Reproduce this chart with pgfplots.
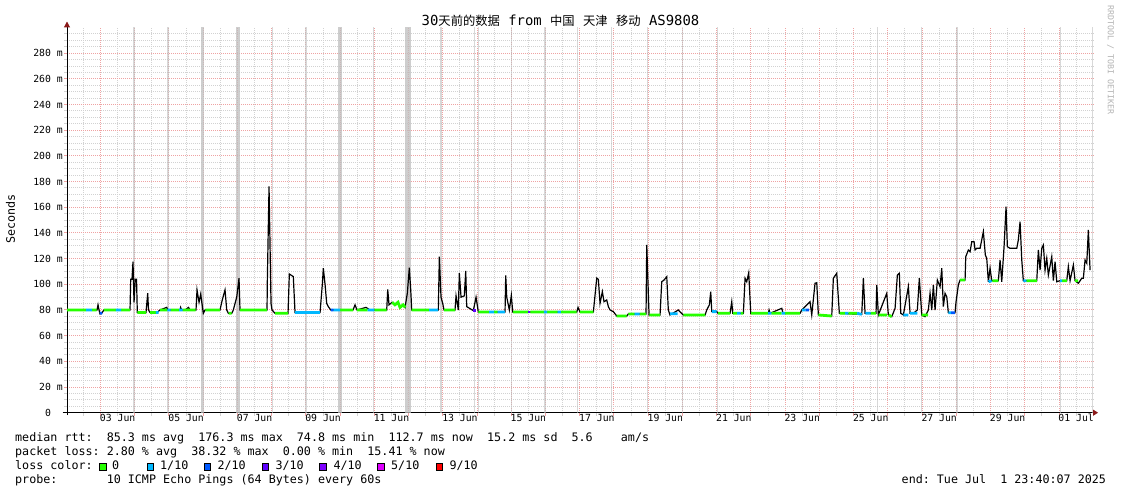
\documentclass[border=0pt]{standalone}
\usepackage{fontspec}
\usepackage{pgfplots}
\pgfplotsset{compat=1.18}
\usetikzlibrary{arrows.meta}
\setmainfont{DejaVu Sans Mono}
\newfontfamily\cjk{Noto Sans CJK SC}

% smokeping loss colours
\definecolor{lossA}{HTML}{26FF00}
\definecolor{lossB}{HTML}{00B8FF}
\definecolor{lossC}{HTML}{0059FF}
\definecolor{lossD}{HTML}{5E00FF}
\definecolor{lossE}{HTML}{7E00FF}
\definecolor{lossF}{HTML}{DD00FF}
\definecolor{lossG}{HTML}{FF0000}
\definecolor{mgrid}{HTML}{EFA3A3}
\definecolor{ngrid}{HTML}{D2D2D2}
\definecolor{smoke}{HTML}{BEBEBE}
\definecolor{arrowred}{HTML}{8B1A1A}
\definecolor{wmark}{HTML}{B4B4B4}

\newcommand{\legfont}{\fontsize{11.7bp}{14bp}\selectfont}
\newcommand{\axfont}{\fontsize{9.8bp}{12bp}\selectfont}

% median rtt (x = days since 1 Jun 00:00, y = ms)
\pgfplotstableread{
x y
1.021 80
1.898 80
1.927 84
1.956 80
1.985 77
2.044 78
2.102 80
2.862 80
2.882 104
2.920 104
2.949 117.6
2.979 86
3.017 104
3.052 104
3.075 78
3.329 78
3.379 93
3.402 80
3.446 78
3.651 78
3.738 80
3.934 82
3.972 80
4.323 80
4.340 82
4.369 80
4.469 80
4.571 82
4.615 80
4.790 80
4.819 95.6
4.878 86
4.927 92.4
5.003 77.4
5.053 80
5.491 80
5.541 86
5.579 90
5.637 95.6
5.687 80
5.734 77.4
5.833 77.4
5.880 80
5.929 85
5.979 90
6.046 104.7
6.075 80
6.864 80
6.873 102
6.923 176.3
6.981 85
7.010 80
7.098 77.4
7.478 77.4
7.516 108
7.632 106
7.682 78
8.413 78
8.480 100
8.509 112.5
8.559 100
8.608 85
8.655 82.6
8.725 80
9.377 80
9.435 84
9.493 80
9.756 82
9.873 80
10.361 80
10.390 96
10.428 84
10.516 86
10.604 84
10.691 86
10.750 82
10.837 84
10.896 82
10.963 93
11.021 112.9
11.062 95.6
11.091 80
11.868 80
11.898 121.5
11.947 90
11.997 85
12.035 80
12.356 80
12.386 91
12.453 80
12.482 108.6
12.532 90
12.628 91
12.669 110.4
12.698 82.6
12.891 79.5
12.970 90
13.037 78.4
13.817 78.4
13.837 107
13.867 90
13.943 80
14.001 91.4
14.042 78.4
15.912 78.4
15.950 82
16.008 78.4
16.397 78.4
16.496 104.7
16.543 103.9
16.592 85.2
16.660 94.2
16.709 86.4
16.788 87.8
16.835 82.6
16.885 80
16.981 78.7
17.080 75.3
17.372 75.3
17.419 76.9
17.936 76.9
17.957 130.6
18.024 76.1
18.345 76.1
18.395 102
18.462 103.3
18.541 105.9
18.587 80
18.637 76.1
18.880 80
18.929 78.5
19.026 76.1
19.660 76.1
19.709 80
19.785 83.9
19.826 94.2
19.856 78.7
20.002 78.7
20.040 77.4
20.390 77.4
20.440 86.4
20.469 77.4
20.779 77.4
20.829 104.7
20.878 102
20.936 109
20.995 77.4
21.509 77.4
21.530 80
21.559 77.4
21.901 81.3
21.938 77.4
22.435 77.4
22.485 80
22.727 86.4
22.777 76.1
22.873 100.8
22.923 101.2
22.970 76.1
23.361 75.3
23.408 104.7
23.507 108.6
23.583 77.4
24.238 76.6
24.285 104.7
24.334 77.4
24.655 77.4
24.676 99.5
24.723 76.1
24.968 93
25.015 76.1
25.114 74.8
25.211 81.3
25.278 107.2
25.336 108.6
25.377 77.4
25.453 76.1
25.599 98.2
25.649 77.4
25.745 77.4
25.862 80
25.920 104.7
25.991 76.1
26.087 74.8
26.183 80
26.233 93
26.283 80
26.329 99.5
26.379 80
26.446 103.3
26.525 98.1
26.575 112.5
26.621 82.6
26.671 93
26.721 90.3
26.767 77.9
26.963 77.9
26.992 86.4
27.060 99.5
27.109 103.3
27.256 103.3
27.276 121.5
27.352 126.7
27.402 125.4
27.451 133.2
27.518 133.2
27.548 126.7
27.597 128
27.694 128
27.790 141
27.848 122.8
27.889 120.2
27.936 102
27.986 112.5
28.035 102.8
28.228 102.8
28.278 118.9
28.327 102
28.395 129.3
28.453 160.4
28.491 129.3
28.570 128
28.766 128
28.812 134.5
28.862 148.8
28.912 118.9
28.958 102.8
29.350 102.8
29.397 126.7
29.446 111.1
29.496 128
29.543 130.6
29.592 111.1
29.642 120.2
29.689 107.2
29.788 121.5
29.835 102.8
29.885 117.6
29.934 102
30.031 102.8
30.226 102.8
30.273 113.7
30.323 102.8
30.419 115
30.469 102.8
30.565 100.8
30.665 104.7
30.711 104.7
30.761 118.9
30.811 116.4
30.857 142.3
30.907 111.1
}\median

% median segments drawn in loss colour 0
\pgfplotstableread{
x y
1.021 80
1.58 80
1.58 nan
1.75 80
1.89 80
1.89 nan
2.10 80
2.45 80
2.45 nan
2.60 80
2.86 80
2.86 nan
3.08 78
3.33 78
3.33 nan
3.45 78
3.62 78
3.62 nan
3.74 80
3.95 80
3.95 nan
4.05 80
4.30 80
4.30 nan
4.40 80
4.78 80
4.78 nan
5.06 80
5.49 80
5.49 nan
5.74 77.4
5.83 77.4
5.83 nan
6.08 80
6.86 80
6.86 nan
7.10 77.4
7.48 77.4
7.48 nan
9.00 80
9.38 80
9.38 nan
9.49 80
9.80 80
9.80 nan
10.00 80
10.36 80
10.36 nan
10.52 86
10.60 84
10.69 86
10.75 82
10.84 84
10.90 82
10.90 nan
11.09 80
11.60 80
11.60 nan
12.04 80
12.36 80
12.36 nan
13.04 78.4
13.35 78.4
13.35 nan
13.50 78.4
13.60 78.4
13.60 nan
14.05 78.4
14.50 78.4
14.50 nan
14.56 78.4
14.95 78.4
14.95 nan
15.05 78.4
15.35 78.4
15.35 nan
15.45 78.4
15.91 78.4
15.91 nan
16.01 78.4
16.40 78.4
16.40 nan
17.08 75.3
17.37 75.3
17.37 nan
17.42 76.9
17.60 76.9
17.60 nan
17.75 76.9
17.94 76.9
17.94 nan
18.03 76.1
18.35 76.1
18.35 nan
19.03 76.1
19.66 76.1
19.66 nan
20.04 77.4
20.39 77.4
20.39 nan
20.47 77.4
20.60 77.4
20.60 nan
20.70 77.4
20.78 77.4
20.78 nan
21.00 77.4
21.50 77.4
21.50 nan
21.60 77.4
21.90 77.4
21.90 nan
22.00 77.4
22.43 77.4
22.43 nan
22.97 76.1
23.36 75.3
23.36 nan
23.59 77.4
23.75 77.4
23.75 nan
23.85 77.4
24.10 77.4
24.10 nan
24.50 77.4
24.65 77.4
24.65 nan
24.73 76.1
24.97 76.1
24.97 nan
25.02 76.1
25.11 74.8
25.11 nan
25.99 76.1
26.18 76.1
26.18 nan
27.11 103.3
27.26 103.3
27.26 nan
28.05 102.8
28.23 102.8
28.23 nan
29.05 102.8
29.35 102.8
29.35 nan
30.09 102.8
30.23 102.8
30.23 nan
30.47 102.8
30.56 102.8
}\lossnone

% loss colour 1/10
\pgfplotstableread{
x y
1.58 80
1.75 80
1.75 nan
2.45 80
2.60 80
2.60 nan
3.62 78
3.70 78
3.70 nan
3.95 80
4.05 80
4.05 nan
4.30 80
4.40 80
4.40 nan
7.68 78
8.41 78
8.41 nan
8.80 80
9.00 80
9.00 nan
9.80 80
10.00 80
10.00 nan
11.60 80
11.86 80
11.86 nan
13.35 78.4
13.50 78.4
13.50 nan
13.60 78.4
13.81 78.4
13.81 nan
14.95 78.4
15.05 78.4
15.05 nan
15.35 78.4
15.45 78.4
15.45 nan
17.60 76.9
17.75 76.9
17.75 nan
18.64 77
18.86 77
18.86 nan
19.86 78.7
20.00 78.7
20.00 nan
20.60 77.4
20.70 77.4
20.70 nan
21.50 77.4
21.60 77.4
21.60 nan
21.90 77.4
22.00 77.4
22.00 nan
22.49 80
22.60 80
22.60 nan
23.75 77.4
23.85 77.4
23.85 nan
24.10 77.4
24.24 76.6
24.24 nan
24.34 77.4
24.50 77.4
24.50 nan
25.45 76.1
25.60 76.1
25.60 nan
25.65 77.4
25.86 77.4
25.86 nan
26.77 77.9
26.85 77.9
26.85 nan
27.94 102
28.03 102.8
28.03 nan
28.96 102.8
29.05 102.8
29.05 nan
30.03 102.8
30.09 102.8
}\lossone

% loss colours 2/10 and 3/10
\pgfplotstableread{
x y
1.99 77
2.04 78
2.04 nan
8.73 80
8.80 80
8.80 nan
22.60 80
22.70 80
22.70 nan
26.85 77.9
26.96 77.9
}\losstwo

\pgfplotstableread{
x y
12.89 79.5
12.96 79.5
12.96 nan
14.50 78.4
14.56 78.4
}\lossthree

\begin{document}
\frenchspacing
\begin{tikzpicture}[x=1bp,y=1bp]
\path[use as bounding box, fill=white] (0,0) rectangle (1121,494);
\begin{axis}[
    at={(67bp,81.3bp)}, anchor=south west,
    scale only axis, width=1026bp, height=385.2bp,
    xmin=1.021, xmax=30.994, ymin=0, ymax=300,
    axis x line=bottom, axis y line=left,
    axis line style={black, line width=1bp},
    x axis line style={shorten <=-4.3bp, shorten >=-5bp,
        -{Triangle[length=5bp,width=6bp,color=arrowred]}},
    y axis line style={shorten <=-2.5bp, shorten >=-6bp,
        -{Triangle[length=6bp,width=6bp,color=arrowred]}},
    xtick={2,3,...,30}, xticklabels={},
    minor xtick={1.5,2.5,...,30.5},
    extra x ticks={2.5,4.5,...,30.5},
    extra x tick labels={03 Jun,05 Jun,07 Jun,09 Jun,11 Jun,13 Jun,15 Jun,17 Jun,19 Jun,21 Jun,23 Jun,25 Jun,27 Jun,29 Jun,01 Jul},
    extra x tick style={grid=none, major tick length=0pt, tick style={draw=none}},
    ytick={0,20,...,280},
    yticklabels={0\hphantom{mm},20 m,40 m,60 m,80 m,100 m,120 m,140 m,160 m,180 m,200 m,220 m,240 m,260 m,280 m},
    minor ytick={5,10,15,25,30,35,45,50,55,65,70,75,85,90,95,105,110,115,125,130,135,145,150,155,165,170,175,185,190,195,205,210,215,225,230,235,245,250,255,265,270,275,285,290,295},
    grid=both,
    major grid style={mgrid, line width=1bp, dash pattern=on 1bp off 1bp},
    minor grid style={ngrid, line width=1bp, dash pattern=on 1bp off 1bp},
    tick align=outside, major tick length=3bp, minor tick length=3bp,
    major tick style={mgrid, line width=1bp},
    minor tick style={ngrid, line width=1bp},
    xticklabel style={font=\axfont, anchor=north, inner sep=0pt, yshift=-1bp},
    yticklabel style={font=\axfont, anchor=east, inner sep=0pt, xshift=-1bp},
    unbounded coords=jump,
]
% full-height smoke bars
\addplot[ycomb, smoke, line width=1bp, opacity=0.6] coordinates {
    (12.920,300) (13.037,300) (15.944,300) (20.030,300) (24.693,300)
    (25.984,300) (30.030,300) (30.988,300)};
\addplot[ycomb, smoke, line width=1.4bp, opacity=0.6] coordinates {
    (2.979,300) (3.972,300) (7.019,300) (7.998,300) (9.970,300)
    (11.941,300) (14.013,300) (14.985,300) (16.934,300) (17.985,300)
    (18.996,300) (27.015,300)};
\addplot[ycomb, smoke, line width=3.2bp, opacity=0.75] coordinates {
    (4.986,300) (6.017,300) (8.996,300)};
\addplot[ycomb, smoke, line width=5.5bp, opacity=0.75] coordinates {(10.977,300)};
% median rtt
\addplot[black, line width=1.2bp] table {\median};
\addplot[lossA, line width=2.8bp] table {\lossnone};
\addplot[lossB, line width=2.8bp] table {\lossone};
\addplot[lossC, line width=2.8bp] table {\losstwo};
\addplot[lossD, line width=2.8bp] table {\lossthree};
\end{axis}

% title, axis label, watermark
\node[anchor=base, inner sep=0pt] at (560.5,468.5) {\fontsize{13.9bp}{16bp}\selectfont
  30{\cjk\fontsize{12.3bp}{16bp}\selectfont 天前的数据} from {\cjk\fontsize{12.3bp}{16bp}\selectfont 中国} {\cjk\fontsize{12.3bp}{16bp}\selectfont 天津} {\cjk\fontsize{12.3bp}{16bp}\selectfont 移动} AS9808};
\node[rotate=90, inner sep=0pt] at (10.5,275) {\legfont Seconds};
\node[rotate=-90, inner sep=0pt, text=wmark] at (1110.5,434) {\fontsize{8.3bp}{10bp}\selectfont RRDTOOL / TOBI OETIKER};

% legend
\node[anchor=base west, inner sep=0pt] at (15,52) {\legfont median rtt:~~85.3 ms avg~~176.3 ms max~~74.8 ms min~~112.7 ms now~~15.2 ms sd~~5.6~~~~am/s};
\node[anchor=base west, inner sep=0pt] at (15,38.3) {\legfont packet loss:~2.80 \% avg~~38.32 \% max~~0.00 \% min~~15.41 \% now};
\node[anchor=base west, inner sep=0pt] at (15,24.3) {\legfont loss color:};
\foreach \c/\bx/\lx/\t in {lossA/99.5/112/0, lossB/147/160/1\slash 10, lossC/204.2/217.3/2\slash 10,
    lossD/262/275.3/3\slash 10, lossE/319.6/333.3/4\slash 10, lossF/377.6/391/5\slash 10, lossG/436/449.3/9\slash 10} {
  \filldraw[fill=\c, draw=black, line width=0.8bp] (\bx,23.9) rectangle ++(6.4,6.6);
  \node[anchor=base west, inner sep=0pt] at (\lx,24.3) {\legfont \t};
}
\node[anchor=base west, inner sep=0pt] at (15,10.3) {\legfont probe:~~~~~~~10 ICMP Echo Pings (64 Bytes) every 60s};
\node[anchor=base west, inner sep=0pt] at (901.5,10.7) {\legfont end: Tue Jul~~1 23:40:07 2025};
\end{tikzpicture}
\end{document}
